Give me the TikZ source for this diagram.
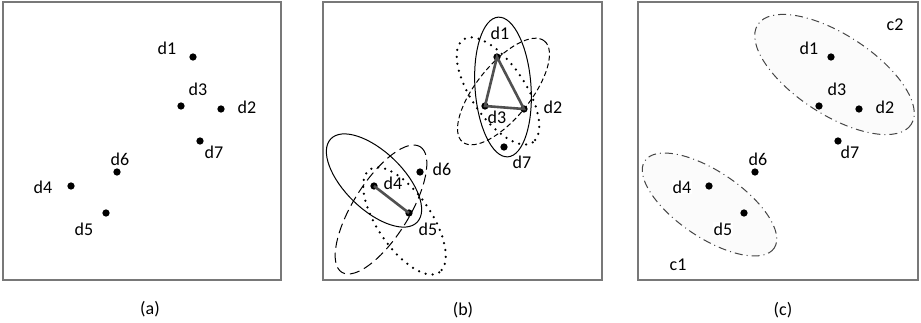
\documentclass[tikz,border=0pt]{standalone}
\usepackage{fontspec}
\setmainfont{Carlito}
\begin{document}
\begin{tikzpicture}[x=1pt,y=-1pt,
  frame/.style={draw={rgb,255:red,120;green,120;blue,120},line width=1.1pt},
  pt/.style={circle,fill=black,inner sep=0pt,minimum size=7.3pt},
  lbl/.style={inner sep=1pt,font=\fontsize{18}{20}\selectfont},
  tri/.style={line width=2.6pt,draw={rgb,255:red,80;green,80;blue,80}},
  solidel/.style={draw=black,line width=1pt},
  dashel/.style={draw=black,line width=1pt,dash pattern=on 5pt off 3pt},
  dashelb/.style={draw=black,line width=1pt,dash pattern=on 10pt off 5pt},
  dotel/.style={draw=black,line width=2.5pt,line cap=round,dash pattern=on 0pt off 7pt},
  clus/.style={draw={rgb,255:red,70;green,70;blue,70},line width=1pt,fill={rgb,255:red,251;green,251;blue,251},dash pattern=on 8pt off 4pt on 1pt off 4pt}]
\useasboundingbox (0,0) rectangle (921,322);
% ---------- panel (a)
\draw[frame] (3,2) rectangle (281,280);
\node[pt] (a1) at (193,57) {};
\node[pt] (a3) at (181,106) {};
\node[pt] (a2) at (221,109) {};
\node[pt] (a7) at (200,141) {};
\node[pt] (a6) at (117,172) {};
\node[pt] (a4) at (71,186) {};
\node[pt] (a5) at (106,213) {};
\node[lbl] (la1) at (167,48) {d1};
\node[lbl] (la3) at (198,89) {d3};
\node[lbl] (la2) at (247,107) {d2};
\node[lbl] (la7) at (214,152) {d7};
\node[lbl] (la6) at (120,159) {d6};
\node[lbl] (la4) at (43,187) {d4};
\node[lbl] (la5) at (84,229) {d5};
\node[lbl] (capa) at (150,309) {(a)};
% ---------- panel (b)
\draw[frame] (323,2) rectangle (602,280);
\draw[solidel] (503,87) ellipse [x radius=28, y radius=70, rotate=4];
\draw[dashel] (503.5,91.5) ellipse [x radius=65, y radius=27, rotate=51];
\draw[dotel] (498,91) ellipse [x radius=62, y radius=27, rotate=-56];
\draw[solidel] (374,180.5) ellipse [x radius=60, y radius=29, rotate=-44];
\draw[dashelb] (381,209.5) ellipse [x radius=74, y radius=28, rotate=58];
\draw[dotel] (404.5,221) ellipse [x radius=62, y radius=27, rotate=-56];
\node[pt] (b1) at (497,57) {};
\node[pt] (b3) at (485,106) {};
\node[pt] (b2) at (524,109) {};
\node[pt] (b7) at (504,147) {};
\node[pt] (b6) at (420,172) {};
\node[pt] (b4) at (374,186) {};
\node[pt] (b5) at (409,213) {};
\draw[tri] (b1.center) -- (b3.center) -- (b2.center) -- cycle;
\draw[tri] (b4.center) -- (b5.center);
\node[lbl] (lb1) at (500,33) {d1};
\node[lbl] (lb3) at (497,117) {d3};
\node[lbl] (lb2) at (553,107) {d2};
\node[lbl] (lb7) at (522,162) {d7};
\node[lbl] (lb6) at (442,169) {d6};
\node[lbl] (lb4) at (393,183) {d4};
\node[lbl] (lb5) at (428,229) {d5};
\node[lbl] (capb) at (463,310) {(b)};
% ---------- panel (c)
\draw[frame] (638,2) rectangle (918,280);
\draw[clus] (834.5,74.5) ellipse [x radius=91.5, y radius=40, rotate=-33];
\draw[clus] (709.5,204.5) ellipse [x radius=78, y radius=33, rotate=-34];
\node[pt] (c1) at (831,57) {};
\node[pt] (c3) at (819,106) {};
\node[pt] (c2) at (859,109) {};
\node[pt] (c7) at (838,141) {};
\node[pt] (c6) at (755,172) {};
\node[pt] (c4) at (709,186) {};
\node[pt] (c5) at (744,213) {};
\node[lbl] (lc1) at (809,48) {d1};
\node[lbl] (lc3) at (837,89) {d3};
\node[lbl] (lc2) at (885,107) {d2};
\node[lbl] (lc7) at (850,152) {d7};
\node[lbl] (lc6) at (758,159) {d6};
\node[lbl,fill=white] (lc4) at (682,187) {d4};
\node[lbl,fill=white] (lc5) at (723,229) {d5};
\node[lbl] (lcc2) at (895,25) {c2};
\node[lbl] (lcc1) at (678,265) {c1};
\node[lbl] (capc) at (783,310) {(c)};
\end{tikzpicture}
\end{document}
